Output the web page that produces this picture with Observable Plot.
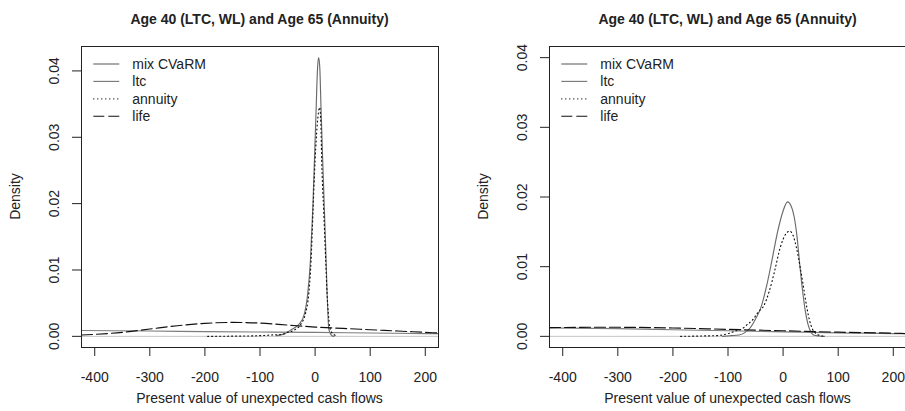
<!DOCTYPE html>
<html>
<head>
<meta charset="utf-8">
<script src="https://cdn.jsdelivr.net/npm/d3@7"></script>
<script src="https://cdn.jsdelivr.net/npm/@observablehq/plot@0.6"></script>
<style>
  html, body { margin: 0; padding: 0; background: #fff; overflow: hidden; }
  #wrap { position: relative; width: 905px; height: 411px; overflow: hidden; }
  .panel { position: absolute; top: 0; }
</style>
</head>
<body>
<div id="wrap"></div>
<script>
// ---- shared text and ticks ----
const panelTitle = "Age 40 (LTC, WL) and Age 65 (Annuity)";
const xTitle = "Present value of unexpected cash flows";
const yTitle = "Density";
const seriesNames = ["mix CVaRM", "ltc", "annuity", "life"];
const xTicks = [-400, -300, -200, -100, 0, 100, 200];
const yTicks = [0, 0.01, 0.02, 0.03, 0.04];

// ---- left panel densities ----
const leftMixX = [-70, -55, -45, -35, -28.5, -19.4, -13.4, -8.5, -4.3, -1.2, 1.8, 4.5, 6.5, 8.5, 10.9, 13.8, 16.9, 20, 21.8, 23.5, 24.7, 27.8, 30.8, 34];
const leftMixY = [0.0001, 0.0004, 0.0009, 0.0014, 0.0019, 0.0034, 0.0064, 0.0114, 0.019, 0.0265, 0.034, 0.0405, 0.042, 0.0405, 0.034, 0.0265, 0.019, 0.0114, 0.0064, 0.003, 0.0012, 0.0004, 0.0001, 0];
const leftLtcX = [-424, -300, -200, -100, 0, 100, 200, 224];
const leftLtcY = [0.00088, 0.0008, 0.00072, 0.00065, 0.0006, 0.0005, 0.00042, 0.0004];
const leftAnnX = [-195, -150, -100, -80, -60, -50, -38.8, -25.4, -17.6, -11.5, -7.3, -3.7, 0, 4, 8.4, 10.5, 12, 15.6, 19.3, 21.8, 24, 26.5, 30, 33.8, 40];
const leftAnnY = [0, 0.00003, 0.0001, 0.0002, 0.0003, 0.0006, 0.0009, 0.0019, 0.0034, 0.0064, 0.0114, 0.019, 0.0265, 0.032, 0.0345, 0.032, 0.0265, 0.019, 0.0114, 0.0064, 0.0035, 0.0015, 0.0006, 0.0003, 0];
const leftLifeX = [-424, -400, -350, -300, -250, -200, -150, -100, -50, 0, 50, 100, 150, 200, 224];
const leftLifeY = [0.0002, 0.0003, 0.0006, 0.0011, 0.0016, 0.00196, 0.0021, 0.002, 0.0017, 0.0014, 0.0012, 0.001, 0.0008, 0.0006, 0.0005];

// ---- right panel densities ----
const rightMixX = [-110, -95, -80, -70, -60, -50, -40, -30, -20, -10, 0, 8, 14, 20, 25, 30, 35, 40, 45, 50, 55, 65, 75];
const rightMixY = [0, 0.0001, 0.0002, 0.0005, 0.0012, 0.0025, 0.0042, 0.0072, 0.011, 0.015, 0.018, 0.0193, 0.0188, 0.0172, 0.0145, 0.0105, 0.0068, 0.0038, 0.0018, 0.0007, 0.0002, 0.00005, 0];
const rightLtcX = [-424, -300, -200, -100, 0, 100, 200, 224];
const rightLtcY = [0.0012, 0.0011, 0.00095, 0.0008, 0.00065, 0.0005, 0.0004, 0.00035];
const rightAnnX = [-186, -150, -120, -100, -85, -74, -65, -56, -45, -35, -25, -15, -5, 5, 12, 18, 24, 31, 37, 43, 48, 53, 60, 68, 74];
const rightAnnY = [0, 0.00005, 0.0001, 0.0004, 0.0008, 0.0011, 0.0017, 0.0023, 0.0035, 0.0044, 0.0065, 0.0095, 0.0128, 0.0147, 0.0151, 0.0145, 0.0128, 0.0099, 0.0071, 0.0042, 0.0023, 0.0011, 0.0004, 0.0001, 0];
const rightLifeX = [-424, -350, -300, -200, -100, 0, 100, 200, 224];
const rightLifeY = [0.00125, 0.0013, 0.0013, 0.0012, 0.001, 0.0008, 0.0006, 0.00045, 0.0004];

// ---- line styles per series ----
const styles = {
  "mix CVaRM": {stroke: "#6a6a6a", dash: null},
  "ltc":       {stroke: "#7c7c7c", dash: null},
  "annuity":   {stroke: "#111111", dash: "1,3"},
  "life":      {stroke: "#111111", dash: "11,4"}
};

const font = "'Liberation Sans', Arial, Helvetica, sans-serif";
const ink = "#222";

function pairs(xs, ys) { return xs.map((x, i) => ({x, y: ys[i]})); }

function drawPanel({offset, yDomain, curves}) {
  const W = 460, H = 411;
  const mL = 81, mR = 22, mT = 46, mB = 64;
  const marks = [
    Plot.ruleY([0], {stroke: "#c4c4c4", strokeWidth: 1}),
    ...seriesNames.map(name => Plot.line(curves[name], {
      x: "x", y: "y", curve: "monotone-x",
      stroke: styles[name].stroke, strokeWidth: 1.15,
      strokeDasharray: styles[name].dash
    })),
    Plot.frame({stroke: ink, strokeWidth: 1}),
    Plot.axisX({ticks: xTicks, tickSize: 9, tickPadding: 15.5, tickFormat: d => String(d), label: null, stroke: ink, fill: ink}),
    Plot.axisY({ticks: yTicks, tickSize: 9, tickPadding: 13.5, tickRotate: -90, tickFormat: d => d.toFixed(2), label: null, stroke: ink, fill: ink})
  ];
  const svg = Plot.plot({
    width: W, height: H,
    marginLeft: mL, marginRight: mR, marginTop: mT, marginBottom: mB,
    x: {domain: [-424, 224]},
    y: {domain: yDomain},
    style: {fontFamily: font, fontSize: "14px", color: ink, background: "transparent", overflow: "visible"},
    marks
  });
  const s = d3.select(svg);
  const cx = mL + (W - mL - mR) / 2;
  const cy = mT + (H - mT - mB) / 2;
  // title
  s.append("text").attr("x", cx).attr("y", 24.3).attr("text-anchor", "middle")
    .attr("font-weight", "bold").attr("font-size", 14).attr("font-family", font).attr("fill", ink)
    .text(panelTitle);
  // x axis title
  s.append("text").attr("x", cx).attr("y", 402.5).attr("text-anchor", "middle")
    .attr("font-size", 14).attr("font-family", font).attr("fill", ink).text(xTitle);
  // y axis title
  s.append("text").attr("transform", `translate(20.4,${cy}) rotate(-90)`).attr("text-anchor", "middle")
    .attr("font-size", 14).attr("font-family", font).attr("fill", ink).text(yTitle);
  // legend
  const lg = s.append("g");
  seriesNames.forEach((name, i) => {
    const y = 64 + i * 17.4;
    lg.append("line").attr("x1", 93.3).attr("x2", 119.3).attr("y1", y).attr("y2", y)
      .attr("stroke", styles[name].stroke).attr("stroke-width", 1.15)
      .attr("stroke-dasharray", styles[name].dash);
    lg.append("text").attr("x", 132.3).attr("y", y + 5).attr("font-size", 14)
      .attr("text-anchor", "start")
      .attr("font-family", font).attr("fill", ink).text(name);
  });
  svg.classList.add("panel");
  svg.style.left = offset + "px";
  document.getElementById("wrap").appendChild(svg);
}

drawPanel({
  offset: 0,
  yDomain: [-0.00168, 0.04368],
  curves: {
    "mix CVaRM": pairs(leftMixX, leftMixY),
    "ltc": pairs(leftLtcX, leftLtcY),
    "annuity": pairs(leftAnnX, leftAnnY),
    "life": pairs(leftLifeX, leftLifeY)
  }
});

drawPanel({
  offset: 468.3,
  yDomain: [-0.0016, 0.0416],
  curves: {
    "mix CVaRM": pairs(rightMixX, rightMixY),
    "ltc": pairs(rightLtcX, rightLtcY),
    "annuity": pairs(rightAnnX, rightAnnY),
    "life": pairs(rightLifeX, rightLifeY)
  }
});
</script>
</body>
</html>
